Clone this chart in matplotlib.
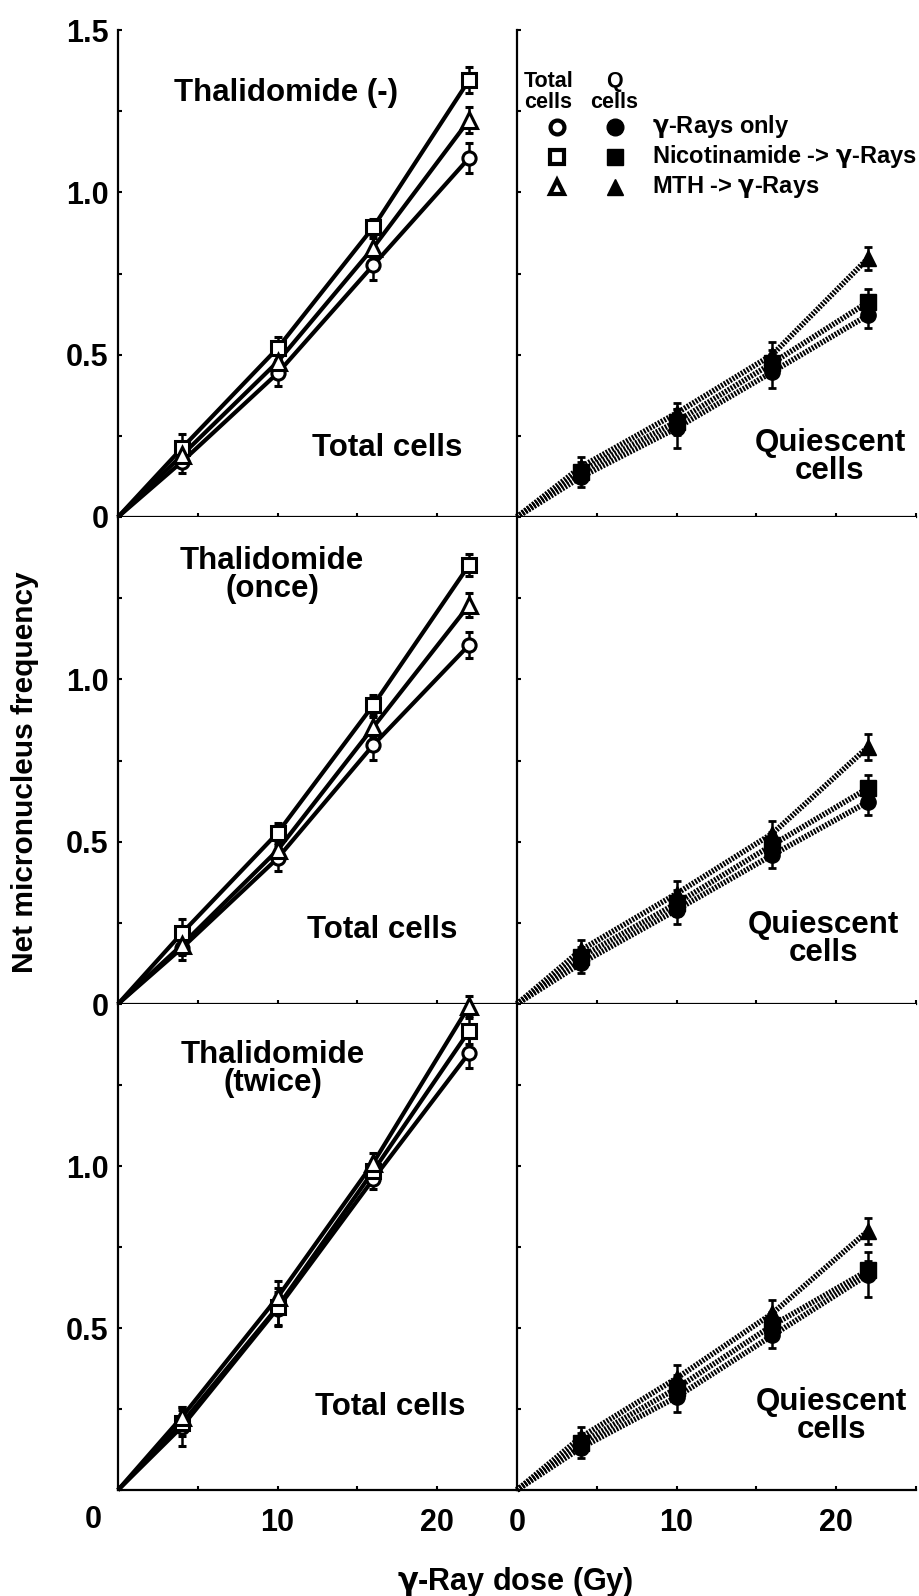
import matplotlib.pyplot as plt
import numpy as np

plt.rcParams['font.family'] = ['Liberation Sans', 'DejaVu Sans']
plt.rcParams['font.weight'] = 'bold'
plt.rcParams['mathtext.fontset'] = 'dejavusans'

W, H = 919, 1596

# Dose (Gy)
dose = [4, 10, 16, 22]

# Total cells, one list per row: Thalidomide (-), (once), (twice)
tot_rays = [[0.17, 0.443, 0.776, 1.106], [0.172, 0.449, 0.798, 1.106], [0.195, 0.56, 0.96, 1.349]]
tot_rays_err = [[0.035, 0.04, 0.045, 0.045], [0.035, 0.04, 0.045, 0.04], [0.06, 0.05, 0.03, 0.045]]
tot_nic = [[0.212, 0.52, 0.893, 1.346], [0.218, 0.527, 0.921, 1.352], [0.206, 0.565, 0.985, 1.417]]
tot_nic_err = [[0.045, 0.035, 0.025, 0.04], [0.045, 0.03, 0.03, 0.035], [0.04, 0.06, 0.03, 0.04]]
tot_mth = [[0.19, 0.478, 0.83, 1.223], [0.182, 0.474, 0.853, 1.229], [0.225, 0.595, 1.01, 1.494]]
tot_mth_err = [[0.03, 0.03, 0.03, 0.04], [0.03, 0.03, 0.03, 0.037], [0.03, 0.05, 0.03, 0.03]]

# Quiescent cells
q_rays = [[0.123, 0.274, 0.447, 0.622], [0.125, 0.29, 0.459, 0.623], [0.13, 0.287, 0.477, 0.665]]
q_rays_err = [[0.03, 0.06, 0.05, 0.04], [0.03, 0.045, 0.04, 0.04], [0.03, 0.045, 0.04, 0.07]]
q_nic = [[0.14, 0.294, 0.474, 0.662], [0.145, 0.31, 0.49, 0.665], [0.145, 0.314, 0.508, 0.678]]
q_nic_err = [[0.03, 0.04, 0.04, 0.04], [0.03, 0.04, 0.04, 0.04], [0.03, 0.04, 0.04, 0.03]]
q_mth = [[0.154, 0.32, 0.50, 0.797], [0.166, 0.34, 0.525, 0.792], [0.163, 0.345, 0.545, 0.80]]
q_mth_err = [[0.03, 0.03, 0.04, 0.035], [0.03, 0.04, 0.04, 0.04], [0.03, 0.04, 0.04, 0.04]]

row_titles = ['Thalidomide (-)', 'Thalidomide\n(once)', 'Thalidomide\n(twice)']
g = r'$\mathbf{\gamma}$'
legend_labels = [g + '-Rays only', 'Nicotinamide -> ' + g + '-Rays', 'MTH -> ' + g + '-Rays']
markers = ['o', 's', '^']


def fx(x):
    return x / W


def fy(y):
    return 1 - y / H


fig = plt.figure(figsize=(W / 100, H / 100), dpi=100)

row_px = [(30, 517), (517, 1004), (1004, 1490)]
yt = np.arange(0, 1.51, 0.25)
xt = np.arange(0, 26, 5)

dose_line = np.r_[0, dose]

for r in range(3):
    top, bot = row_px[r]
    for c in range(2):
        x0 = 118 if c == 0 else 517
        ax = fig.add_axes([fx(x0), fy(bot), 399 / W, (bot - top) / H])
        ax.set_xlim(0, 25)
        ax.set_ylim(0, 1.5)
        for s in ['top', 'right']:
            ax.spines[s].set_visible(False)
        for s in ['left', 'bottom']:
            ax.spines[s].set_linewidth(1.6)
        ax.tick_params(direction='in', length=3, width=1.5, labelsize=22)
        ax.tick_params(axis='y', pad=7)
        ax.tick_params(axis='x', pad=13)
        ax.set_yticks(yt)
        ax.set_xticks(xt)

        if c == 0:
            ylab = []
            for v in yt:
                if v == 0:
                    lab = '0' if r < 2 else ''
                elif v in (0.5, 1.0):
                    lab = '%.1f' % v
                elif v == 1.5:
                    lab = '1.5' if r == 0 else ''
                else:
                    lab = ''
                ylab.append(lab)
            ax.set_yticklabels(ylab)
        else:
            ax.set_yticklabels([])

        if r == 2:
            xl = []
            for v in xt:
                if v in (10, 20) or (v == 0 and c == 1):
                    xl.append(str(v))
                else:
                    xl.append('')
            ax.set_xticklabels(xl)
        else:
            ax.set_xticklabels([])

        if c == 0:
            sets = [(tot_rays, tot_rays_err), (tot_nic, tot_nic_err), (tot_mth, tot_mth_err)]
            for (vals, errs), m in zip(sets, markers):
                ax.plot(dose_line, np.r_[0, vals[r]], color='black', lw=3, zorder=2,
                        solid_capstyle='butt', clip_on=False)
            for (vals, errs), m in zip(sets, markers):
                ax.errorbar(dose, vals[r], yerr=errs[r], fmt=m, ms=11 if m == '^' else 9.5,
                            mfc='white', mec='black', mew=2.2, ecolor='black', elinewidth=1.8,
                            capsize=3, capthick=2, zorder=3, clip_on=False)
        else:
            sets = [(q_rays, q_rays_err), (q_nic, q_nic_err), (q_mth, q_mth_err)]
            for (vals, errs), m in zip(sets, markers):
                ax.plot(dose_line, np.r_[0, vals[r]], color='black', lw=4, zorder=2,
                        linestyle=(0, (0.35, 0.25)), dash_capstyle='butt', clip_on=False)
            for (vals, errs), m in zip(sets, markers):
                ax.errorbar(dose, vals[r], yerr=errs[r], fmt=m, ms=12 if m == '^' else 11,
                            mfc='black', mec='black', ecolor='black', elinewidth=1.8,
                            capsize=3, capthick=2, zorder=3, clip_on=False)

# panel texts
title_pos = [(286, 93), (272, 575), (273, 1069)]
total_pos = [(387, 448), (382, 930), (390, 1407)]
quies_pos = [(830, 457), (823, 939), (831, 1416)]
for r in range(3):
    fig.text(fx(title_pos[r][0]), fy(title_pos[r][1]), row_titles[r], ha='center',
             va='center', fontsize=22.5, linespacing=0.95)
    fig.text(fx(total_pos[r][0]), fy(total_pos[r][1]), 'Total cells', ha='center',
             va='center', fontsize=22.5)
    fig.text(fx(quies_pos[r][0]), fy(quies_pos[r][1]), 'Quiescent\ncells', ha='center',
             va='center', fontsize=22.5, linespacing=0.95)

# legend
fig.text(fx(524), fy(92), 'Total\ncells', ha='left', va='center', fontsize=15.5,
         linespacing=0.95)
fig.text(fx(614), fy(92), 'Q\ncells', ha='center', va='center', fontsize=15.5,
         linespacing=0.95)
leg_y = [127, 157, 187]
for m, lab, y in zip(markers, legend_labels, leg_y):
    fig.add_artist(plt.Line2D([fx(557)], [fy(y)], marker=m, ms=10, mfc='white', mec='black',
                              mew=3, transform=fig.transFigure))
    fig.add_artist(plt.Line2D([fx(615)], [fy(y)], marker=m, ms=12, mfc='black', mec='black',
                              transform=fig.transFigure))
    fig.text(fx(652), fy(y), lab, ha='left', va='center', fontsize=17)

# axis labels
fig.text(fx(93), fy(1520), '0', ha='center', va='center', fontsize=22)
fig.text(fx(25), fy(772), 'Net micronucleus frequency', rotation=90, ha='center',
         va='center', fontsize=21.5)
fig.text(fx(515), fy(1582), g + '-Ray dose (Gy)', ha='center', va='center', fontsize=22)

fig.savefig('out.png', dpi=100)
